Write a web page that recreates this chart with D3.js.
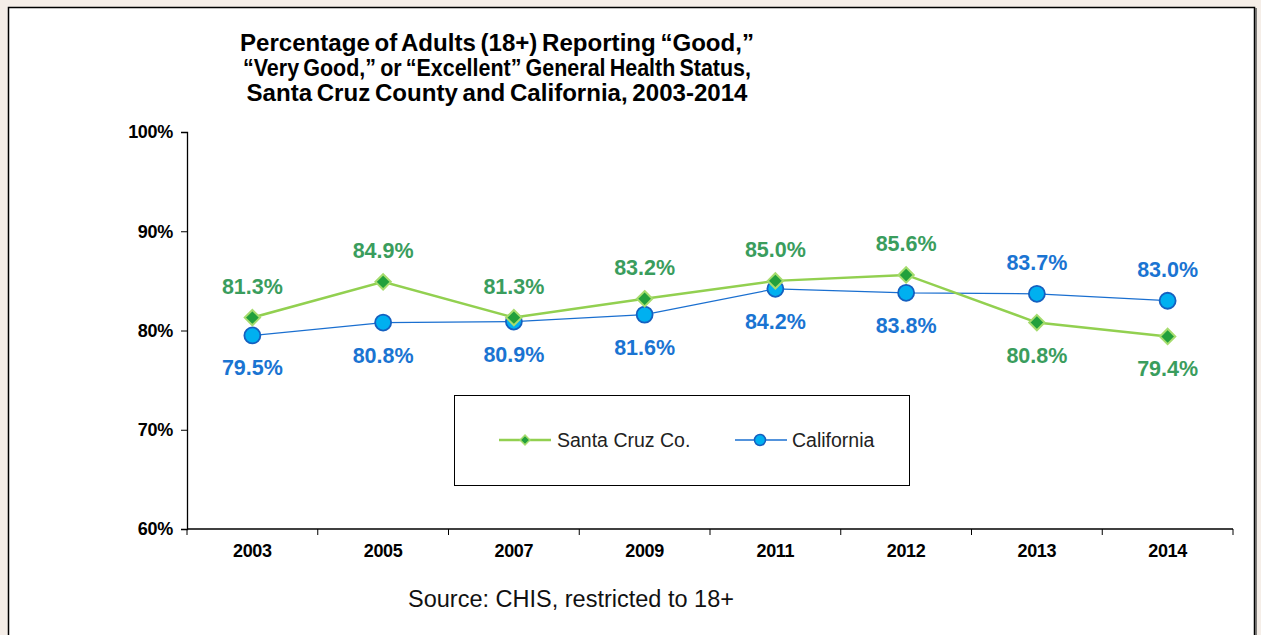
<!DOCTYPE html>
<html>
<head>
<meta charset="utf-8">
<script src="https://cdn.jsdelivr.net/npm/d3@7"></script>
<style>
  body { margin: 0; background: #f5eee8; }
  svg { display: block; font-family: "Liberation Sans", Arial, sans-serif; }
</style>
</head>
<body>
<div class="chart"></div>
<script>
// data
let years = ["2003", "2005", "2007", "2009", "2011", "2012", "2013", "2014"];
let santaCruz = [81.3, 84.9, 81.3, 83.2, 85.0, 85.6, 80.8, 79.4];
let california = [79.5, 80.8, 80.9, 81.6, 84.2, 83.8, 83.7, 83.0];
// +1 = label above the point, -1 = below
let santaCruzLabelSide = [1, 1, 1, 1, 1, 1, -1, -1];
let californiaLabelSide = [-1, -1, -1, -1, -1, -1, 1, 1];
let yTicks = [60, 70, 80, 90, 100];
let titleLines = [
	"Percentage of Adults (18+) Reporting \u201cGood,\u201d",
	"\u201cVery Good,\u201d or \u201cExcellent\u201d General Health Status,",
	"Santa Cruz County and California, 2003-2014"
];

let W = 1261, H = 635;
let margin = {top: 132, right: 28, bottom: 106, left: 187},
	width = W - margin.left - margin.right,
	height = H - margin.top - margin.bottom;

let svg = d3.select(".chart").append("svg")
	.attr("width", W)
	.attr("height", H);

// white panel with border
svg.append("rect")
	.attr("x", 8.5).attr("y", 7.5)
	.attr("width", 1246).attr("height", 660)
	.attr("fill", "#fff")
	.attr("stroke", "#000")
	.attr("stroke-width", 1.5);
svg.append("line")
	.attr("x1", 1256).attr("x2", 1256)
	.attr("y1", 8).attr("y2", H)
	.attr("stroke", "#555").attr("stroke-width", 1.5);

// title (the original is set narrow, so fit each line to its width)
let titleWidths = [514, 508, 501];
svg.append("g").selectAll("text")
	.data(titleLines)
	.join("text")
	.attr("x", 497)
	.attr("y", (d, i) => 51 + i * 25)
	.attr("text-anchor", "middle")
	.attr("textLength", (d, i) => titleWidths[i])
	.attr("lengthAdjust", "spacingAndGlyphs")
	.style("font-size", "24px")
	.style("font-weight", "bold")
	.style("word-spacing", "-2px")
	.text(d => d);

let artboard = svg.append("g")
	.attr("transform", "translate(" + margin.left + "," + margin.top + ")");

let xScale = d3.scaleBand().domain(years).range([0, width]);
let yScale = d3.scaleLinear().domain([60, 100]).range([height, 0]);

// y axis
let yAxis = d3.axisLeft(yScale)
	.tickValues(yTicks)
	.tickFormat(d => d + "%")
	.tickSize(6)
	.tickPadding(8);
let yAxisEl = artboard.append("g").call(yAxis);
yAxisEl.select(".domain").attr("stroke", "#000").attr("stroke-width", 1.3);
yAxisEl.selectAll(".tick line").attr("stroke", "#000");
yAxisEl.selectAll("text")
	.style("font-size", "18px")
	.style("font-weight", "bold")
	.style("letter-spacing", "-0.3px")
	.style("font-family", "Liberation Sans, Arial, sans-serif")
	.attr("fill", "#000");

// x axis: labels centred in bands, ticks at band edges
let xAxisEl = artboard.append("g")
	.attr("transform", "translate(0," + height + ")");
xAxisEl.append("line")
	.attr("x1", 0).attr("x2", width)
	.attr("stroke", "#000").attr("stroke-width", 1.3);
let edges = years.map(d => xScale(d)).concat([width]);
xAxisEl.selectAll(".xtick")
	.data(edges)
	.join("line")
	.attr("class", "xtick")
	.attr("x1", d => d).attr("x2", d => d)
	.attr("y1", 0).attr("y2", 6)
	.attr("stroke", "#000");
xAxisEl.selectAll(".xlabel")
	.data(years)
	.join("text")
	.attr("class", "xlabel")
	.attr("x", d => xScale(d) + xScale.bandwidth() / 2)
	.attr("y", 28)
	.attr("text-anchor", "middle")
	.style("font-size", "18px")
	.style("font-weight", "bold")
	.style("letter-spacing", "-0.3px")
	.text(d => d);

let cx = i => xScale(years[i]) + xScale.bandwidth() / 2;

let line = d3.line()
	.x((d, i) => cx(i))
	.y(d => yScale(d));

// California series
artboard.append("path")
	.datum(california)
	.attr("d", line)
	.attr("fill", "none")
	.attr("stroke", "#1a6fd0")
	.attr("stroke-width", 1.3);

// Santa Cruz series
artboard.append("path")
	.datum(santaCruz)
	.attr("d", line)
	.attr("fill", "none")
	.attr("stroke", "#92d050")
	.attr("stroke-width", 2.5);

artboard.selectAll(".ca-pt")
	.data(california)
	.join("circle")
	.attr("class", "ca-pt")
	.attr("cx", (d, i) => cx(i))
	.attr("cy", d => yScale(d))
	.attr("r", 8)
	.attr("fill", "#00b0f0")
	.attr("stroke", "#1560c0")
	.attr("stroke-width", 1.8);

let diamond = d3.symbol().type(d3.symbolDiamond2).size(150);
artboard.selectAll(".sc-pt")
	.data(santaCruz)
	.join("path")
	.attr("class", "sc-pt")
	.attr("d", diamond)
	.attr("transform", (d, i) => "translate(" + cx(i) + "," + yScale(d) + ")")
	.attr("fill", "#22a03c")
	.attr("stroke", "#a6dc6e")
	.attr("stroke-width", 2);

// data labels
artboard.selectAll(".sc-lbl")
	.data(santaCruz)
	.join("text")
	.attr("class", "sc-lbl")
	.attr("x", (d, i) => cx(i))
	.attr("y", (d, i) => yScale(d) - santaCruzLabelSide[i] * 32 + 8)
	.attr("text-anchor", "middle")
	.attr("fill", "#3a9d5d")
	.style("font-size", "21.5px")
	.style("font-weight", "bold")
	.text(d => d.toFixed(1) + "%");

artboard.selectAll(".ca-lbl")
	.data(california)
	.join("text")
	.attr("class", "ca-lbl")
	.attr("x", (d, i) => cx(i))
	.attr("y", (d, i) => yScale(d) - californiaLabelSide[i] * 32 + 8)
	.attr("text-anchor", "middle")
	.attr("fill", "#1a74d2")
	.style("font-size", "21.5px")
	.style("font-weight", "bold")
	.text(d => d.toFixed(1) + "%");

// legend
let legend = svg.append("g");
legend.append("rect")
	.attr("x", 454.5).attr("y", 395.5)
	.attr("width", 455).attr("height", 90)
	.attr("fill", "#fff")
	.attr("stroke", "#000")
	.attr("stroke-width", 1);

let scItem = legend.append("g").attr("transform", "translate(499,440)");
scItem.append("line").attr("x1", 0).attr("x2", 52)
	.attr("stroke", "#92d050").attr("stroke-width", 2.5);
scItem.append("path")
	.attr("d", d3.symbol().type(d3.symbolDiamond2).size(60))
	.attr("transform", "translate(26,0)")
	.attr("fill", "#22a03c").attr("stroke", "#a6dc6e").attr("stroke-width", 1.5);
scItem.append("text").attr("x", 58).attr("y", 7)
	.style("font-size", "19.5px").attr("fill", "#222")
	.text("Santa Cruz Co.");

let caItem = legend.append("g").attr("transform", "translate(735,440)");
caItem.append("line").attr("x1", 0).attr("x2", 52)
	.attr("stroke", "#1a6fd0").attr("stroke-width", 1.3);
caItem.append("circle").attr("cx", 25).attr("r", 5.5)
	.attr("fill", "#00b0f0").attr("stroke", "#1560c0").attr("stroke-width", 1.5);
caItem.append("text").attr("x", 57).attr("y", 7)
	.style("font-size", "19.5px").attr("fill", "#222")
	.text("California");

// source note
svg.append("text")
	.attr("x", 571).attr("y", 607)
	.attr("text-anchor", "middle")
	.style("font-size", "23.5px")
	.attr("fill", "#111")
	.text("Source: CHIS, restricted to 18+");
</script>
</body>
</html>
